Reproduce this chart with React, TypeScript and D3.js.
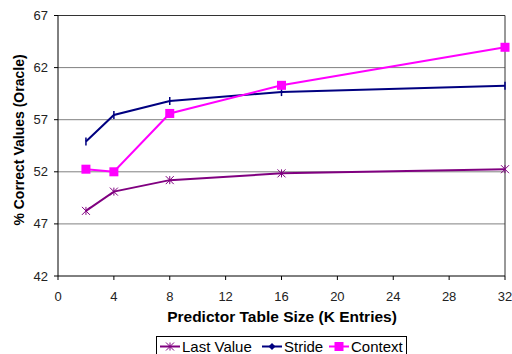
import React from "react";
import * as d3 from "d3";

const sizes = [2, 4, 8, 16, 32];
const lastValue = [48.25, 50.1, 51.2, 51.85, 52.25];
const stride = [54.9, 57.45, 58.8, 59.65, 60.25];
const context = [52.25, 52.0, 57.6, 60.3, 63.95];
const xTicks = [0, 4, 8, 12, 16, 20, 24, 28, 32];
const yTicks = [42, 47, 52, 57, 62, 67];
const seriesNames = ["Last Value", "Stride", "Context"];
const seriesColors = ["#800080", "#000080", "#FF00FF"];

const W = 512, H = 354;
const L = 58, R = 505, T = 15.5, B = 276;

export default function App() {
  const x = d3.scaleLinear().domain([0, 32]).range([L, R]);
  const y = d3.scaleLinear().domain([42, 67]).range([B, T]);
  const line = d3.line<number>().x((_, i) => x(sizes[i])).y((d) => y(d));
  const data = [lastValue, stride, context];
  const font = "Arial, 'Liberation Sans', sans-serif";

  const marker = (s: number, cx: number, cy: number, key: string, legend = false) => {
    const c = seriesColors[s];
    if (s === 0) {
      const r = 4;
      return (
        <g key={key} stroke={c} strokeWidth={1}>
          <line x1={cx - r} y1={cy - r} x2={cx + r} y2={cy + r} />
          <line x1={cx - r} y1={cy + r} x2={cx + r} y2={cy - r} />
          <line x1={cx} y1={cy - r} x2={cx} y2={cy + r} />
        </g>
      );
    }
    if (s === 1) {
      if (legend) {
        return <path key={key} d={`M${cx},${cy - 3.5}L${cx + 3.5},${cy}L${cx},${cy + 3.5}L${cx - 3.5},${cy}Z`} fill={c} />;
      }
      return <line key={key} x1={cx} y1={cy - 4} x2={cx} y2={cy + 4} stroke={c} strokeWidth={1.5} />;
    }
    return <rect key={key} x={cx - 4.5} y={cy - 4.5} width={9} height={9} fill={c} />;
  };

  const legendX = [160, 262, 329];

  return (
    <svg width={W} height={H} style={{ position: "absolute", left: 0, top: 0 }} fontFamily={font}>
      <rect width={W} height={H} fill="#fff" />
      {yTicks.slice(1, -1).map((t) => (
        <line key={t} x1={L} x2={R} y1={y(t)} y2={y(t)} stroke="#808080" strokeWidth={1} />
      ))}
      <line x1={L} x2={R} y1={y(67)} y2={y(67)} stroke="#333" strokeWidth={1} />
      <line x1={R} x2={R} y1={T} y2={B} stroke="#333" strokeWidth={1} />
      <line x1={L} x2={L} y1={T} y2={B} stroke="#000" strokeWidth={1} />
      <line x1={L} x2={R} y1={B} y2={B} stroke="#000" strokeWidth={1} />
      {yTicks.map((t) => (
        <g key={t}>
          <line x1={L - 4} x2={L} y1={y(t)} y2={y(t)} stroke="#000" />
          <text x={48} y={y(t)} dy="0.35em" textAnchor="end" fontSize={13} fill="#222">{t}</text>
        </g>
      ))}
      {xTicks.map((t) => (
        <g key={t}>
          <line x1={x(t)} x2={x(t)} y1={B} y2={B + 4} stroke="#000" />
          <text x={x(t)} y={296} dy="0.35em" textAnchor="middle" fontSize={13} fill="#222">{t}</text>
        </g>
      ))}
      <text x={282} y={317} dy="0.35em" textAnchor="middle" fontSize={15.5} fontWeight="bold" fill="#000">
        Predictor Table Size (K Entries)
      </text>
      <text transform={`translate(19,140) rotate(-90)`} textAnchor="middle" dy="0.35em" fontSize={14} fontWeight="bold" fill="#000">
        % Correct Values (Oracle)
      </text>
      {data.map((d, s) => (
        <g key={s}>
          <path d={line(d) || ""} fill="none" stroke={seriesColors[s]} strokeWidth={2} />
          {d.map((v, i) => marker(s, x(sizes[i]), y(v), `${s}-${i}`))}
        </g>
      ))}
      <rect x={156.5} y={336.5} width={250} height={22} fill="#fff" stroke="#000" strokeWidth={1} />
      {seriesNames.map((n, s) => {
        const lx = legendX[s];
        const cy = 346.5;
        return (
          <g key={n}>
            <line x1={lx} x2={lx + 20} y1={cy} y2={cy} stroke={seriesColors[s]} strokeWidth={2} />
            {marker(s, lx + 10, cy, `lg${s}`, true)}
            <text x={lx + 22} y={cy} dy="0.35em" fontSize={15} fill="#000">{n}</text>
          </g>
        );
      })}
    </svg>
  );
}
